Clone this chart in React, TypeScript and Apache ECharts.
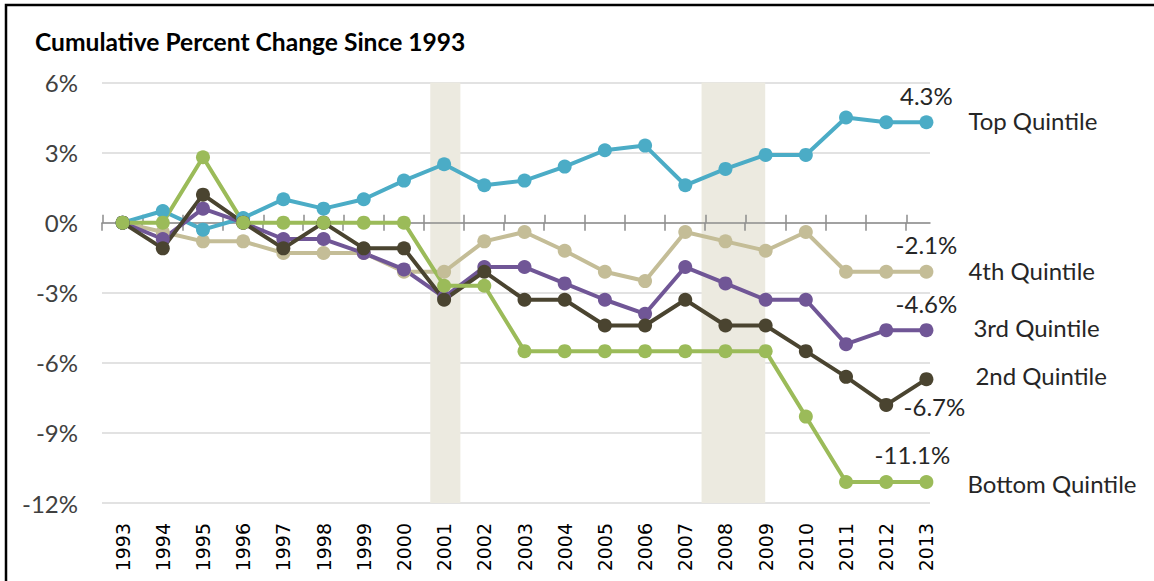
import React, { useEffect, useRef } from 'react';
import * as echarts from 'echarts';

// ---- data ----
const years = ['1993','1994','1995','1996','1997','1998','1999','2000','2001','2002','2003','2004','2005','2006','2007','2008','2009','2010','2011','2012','2013'];
const topQuintile = [0, 0.5, -0.3, 0.2, 1.0, 0.6, 1.0, 1.8, 2.5, 1.6, 1.8, 2.4, 3.1, 3.3, 1.6, 2.3, 2.9, 2.9, 4.5, 4.3, 4.3];
const fourthQuintile = [0, -0.4, -0.8, -0.8, -1.3, -1.3, -1.3, -2.1, -2.1, -0.8, -0.4, -1.2, -2.1, -2.5, -0.4, -0.8, -1.2, -0.4, -2.1, -2.1, -2.1];
const thirdQuintile = [0, -0.7, 0.6, 0, -0.7, -0.7, -1.3, -2.0, -3.2, -1.9, -1.9, -2.6, -3.3, -3.9, -1.9, -2.6, -3.3, -3.3, -5.2, -4.6, -4.6];
const secondQuintile = [0, -1.1, 1.2, 0, -1.1, 0, -1.1, -1.1, -3.3, -2.1, -3.3, -3.3, -4.4, -4.4, -3.3, -4.4, -4.4, -5.5, -6.6, -7.8, -6.7];
const bottomQuintile = [0, 0, 2.8, 0, 0, 0, 0, 0, -2.7, -2.7, -5.5, -5.5, -5.5, -5.5, -5.5, -5.5, -5.5, -8.3, -11.1, -11.1, -11.1];
// recessions as fractional calendar years (start, end)
const recessions: [number, number][] = [[2001 + 2 / 12, 2001 + 11 / 12], [2007 + 11 / 12, 2009 + 6 / 12]];
const yTicks = { min: -12, max: 6, step: 3 };
const titleText = 'Cumulative Percent Change Since 1993';

// ---- styles ----
const FONT = 'Lato';
const TEXT = '#262626';

const seriesDefs = [
  { name: 'Top Quintile', data: topQuintile, color: '#4BACC6', valPos: 'top', valOffset: [0, 0], nameOffset: [0, -2] },
  { name: '4th Quintile', data: fourthQuintile, color: '#C4BD97', valPos: 'top', valOffset: [0, 0], nameOffset: [0, -1] },
  { name: '3rd Quintile', data: thirdQuintile, color: '#705696', valPos: 'top', valOffset: [0, 0], nameOffset: [5, -3] },
  { name: '2nd Quintile', data: secondQuintile, color: '#4A4430', valPos: 'bottom', valOffset: [8, 0], nameOffset: [7, -4] },
  { name: 'Bottom Quintile', data: bottomQuintile, color: '#9BBB59', valPos: 'top', valOffset: [-14, 0], nameOffset: [-1, 2] },
];
// draw order (first = bottom)
const drawOrder = ['4th Quintile', 'Top Quintile', '3rd Quintile', '2nd Quintile', 'Bottom Quintile'];

export default function App() {
  const ref = useRef<HTMLDivElement>(null);
  useEffect(() => {
    document.body.style.margin = '0';
    const chart = echarts.init(ref.current!, null, { renderer: 'svg' });
    const tickValues = years.map((_, i) => i);
    const axisLineStyle = { color: '#8C8C8C', width: 1.5 };

    const dataSeries = drawOrder.map((nm) => {
      const d = seriesDefs.find((s) => s.name === nm)!;
      const last = d.data.length - 1;
      return {
        type: 'line',
        name: d.name,
        xAxisIndex: 1,
        yAxisIndex: 1,
        z: 3,
        symbol: 'circle',
        symbolSize: 14,
        lineStyle: { color: d.color, width: 4 },
        itemStyle: { color: d.color },
        data: d.data.map((v, i) =>
          i === last
            ? {
                value: v,
                label: {
                  show: true,
                  position: d.valPos,
                  distance: 8,
                  offset: d.valOffset,
                  formatter: () => `${v.toFixed(1)}%`,
                  fontFamily: FONT,
                  fontSize: 24,
                  color: TEXT,
                },
              }
            : v
        ),
        endLabel: {
          show: true,
          formatter: '{a}',
          distance: 42,
          offset: d.nameOffset,
          fontFamily: FONT,
          fontSize: 24,
          color: TEXT,
        },
      };
    });

    const option: any = {
      animation: false,
      backgroundColor: '#ffffff',
      title: {
        text: titleText,
        left: 35,
        top: 29,
        padding: 0,
        textStyle: { fontFamily: FONT, fontWeight: 'bold', fontSize: 24.6, color: '#000' },
      },
      graphic: [
        {
          type: 'rect',
          shape: { x: 6, y: 5, width: 1300, height: 800 },
          style: { fill: 'none', stroke: '#000', lineWidth: 2.5 },
          silent: true,
          z: 100,
        },
      ],
      grid: [
        { left: 102, top: 82.5, width: 828, height: 420.5 },
        { left: 102.5, top: 82.5, width: 844, height: 420.5 },
      ],
      xAxis: [
        {
          gridIndex: 0,
          type: 'value',
          position: 'bottom',
          min: 0,
          max: 20.6,
          z: 2,
          axisLine: { show: true, onZero: true, lineStyle: axisLineStyle },
          axisTick: { show: true, length: 8, customValues: tickValues, lineStyle: axisLineStyle },
          axisLabel: { show: false },
          splitLine: { show: false },
        },
        {
          gridIndex: 1,
          type: 'category',
          data: years,
          boundaryGap: true,
          position: 'bottom',
          axisLine: { show: false, onZero: false },
          axisTick: { show: false },
          axisLabel: { rotate: 90, margin: 20, fontFamily: 'DejaVu Sans', fontSize: 19, color: '#000', interval: 0 },
          splitLine: { show: false },
        },
        {
          gridIndex: 1,
          type: 'value',
          position: 'top',
          min: 0,
          max: 21,
          z: 2,
          axisLine: { show: false, onZero: true },
          axisTick: { show: true, length: 8, customValues: tickValues, lineStyle: axisLineStyle },
          axisLabel: { show: false },
          splitLine: { show: false },
        },
      ],
      yAxis: [
        {
          gridIndex: 0,
          type: 'value',
          min: yTicks.min,
          max: yTicks.max,
          interval: yTicks.step,
          z: 0,
          axisLine: { show: false },
          axisTick: { show: false },
          axisLabel: { formatter: '{value}%', margin: 24, fontFamily: FONT, fontSize: 24, color: '#404040' },
          splitLine: { show: true, lineStyle: { color: '#D9D9D9', width: 1.5 } },
        },
        {
          gridIndex: 1,
          type: 'value',
          min: yTicks.min,
          max: yTicks.max,
          interval: yTicks.step,
          show: false,
        },
      ],
      series: [
        {
          type: 'line',
          name: 'recessions',
          xAxisIndex: 0,
          yAxisIndex: 0,
          z: 1,
          data: [],
          silent: true,
          markArea: {
            silent: true,
            itemStyle: { color: '#ECEAE0' },
            data: recessions.map(([a, b]) => [{ xAxis: a - Number(years[0]) }, { xAxis: b - Number(years[0]) }]),
          },
        },
        ...dataSeries,
      ],
    };
    chart.setOption(option);
    return () => chart.dispose();
  }, []);
  return <div ref={ref} style={{ width: 1154, height: 581, position: 'absolute', left: 0, top: 0 }} />;
}
